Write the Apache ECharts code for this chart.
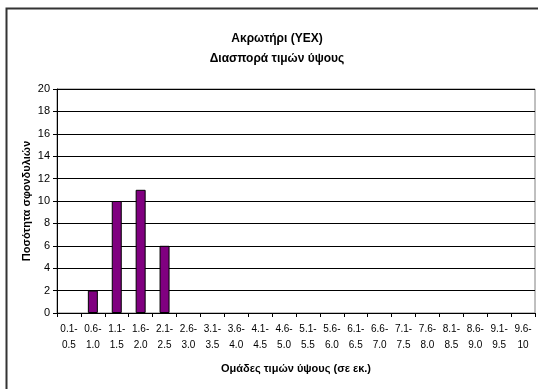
<!DOCTYPE html>
<html>
<head>
<meta charset="utf-8">
<script src="https://cdn.jsdelivr.net/npm/echarts@6/dist/echarts.min.js"></script>
<style>
  html, body { margin: 0; padding: 0; background: #fff; }
  #main { width: 538px; height: 389px; }
</style>
</head>
<body>
<div id="main"></div>
<script>
var categories = ['0.1-\n0.5','0.6-\n1.0','1.1-\n1.5','1.6-\n2.0','2.1-\n2.5','2.6-\n3.0','3.1-\n3.5','3.6-\n4.0','4.1-\n4.5','4.6-\n5.0',
                  '5.1-\n5.5','5.6-\n6.0','6.1-\n6.5','6.6-\n7.0','7.1-\n7.5','7.6-\n8.0','8.1-\n8.5','8.6-\n9.0','9.1-\n9.5','9.6-\n10'];
var counts = [0, 2, 10, 11, 6, 0, 0, 0, 0, 0, 0, 0, 0, 0, 0, 0, 0, 0, 0, 0];

// zero-height bars get no outline (otherwise a stub shows on the axis)
var barData = counts.map(function (v) {
  return v === 0 ? { value: v, itemStyle: { borderWidth: 0 } } : v;
});

var chart = echarts.init(document.getElementById('main'));
var font = 'Liberation Sans, Arial, sans-serif';
var option = {
  animation: false,
  textStyle: { fontFamily: font },
  graphic: [
    {
      type: 'rect',
      left: 4, top: 6,
      shape: { width: 560, height: 420 },
      style: { fill: 'none', stroke: '#333', lineWidth: 2 }
    }
  ],
  title: {
    text: 'Ακρωτήρι (ΥΕΧ)\nΔιασπορά τιμών ύψους',
    left: 272, top: 24, textAlign: 'center',
    textStyle: { fontFamily: font, fontSize: 12, fontWeight: 'bold', color: '#000', lineHeight: 20 }
  },
  grid: {
    left: 57, right: 3, top: 89, bottom: 76,
    show: true, borderColor: '#808080', borderWidth: 1, backgroundColor: '#fff'
  },
  xAxis: {
    type: 'category',
    data: categories,
    name: 'Ομάδες τιμών ύψους (σε εκ.)',
    nameLocation: 'middle',
    nameGap: 50,
    nameMoveOverlap: false,
    nameTextStyle: { fontFamily: font, fontSize: 11, fontWeight: 'bold', color: '#000' },
    axisLine: { lineStyle: { color: '#000', width: 1 } },
    axisTick: { show: true, length: 4, interval: 0, lineStyle: { color: '#000' } },
    axisLabel: { interval: 0, fontFamily: font, fontSize: 10, color: '#000', lineHeight: 16, margin: 8 }
  },
  yAxis: {
    type: 'value',
    min: 0, max: 20, interval: 2,
    name: 'Ποσότητα σφονδυλιών',
    nameLocation: 'middle',
    nameGap: 25,
    nameMoveOverlap: false,
    nameTextStyle: { fontFamily: font, fontSize: 11, fontWeight: 'bold', color: '#000' },
    axisLine: { show: true, lineStyle: { color: '#000', width: 1 } },
    axisTick: { show: true, length: 4, lineStyle: { color: '#000' } },
    axisLabel: { fontFamily: font, fontSize: 11, color: '#000', margin: 7 },
    splitLine: { show: true, lineStyle: { color: '#000', width: 1 } }
  },
  series: [
    {
      type: 'bar',
      data: barData,
      barWidth: 10,
      itemStyle: { color: '#800080', borderColor: '#000', borderWidth: 1 }
    }
  ]
};
chart.setOption(option);
</script>
</body>
</html>
